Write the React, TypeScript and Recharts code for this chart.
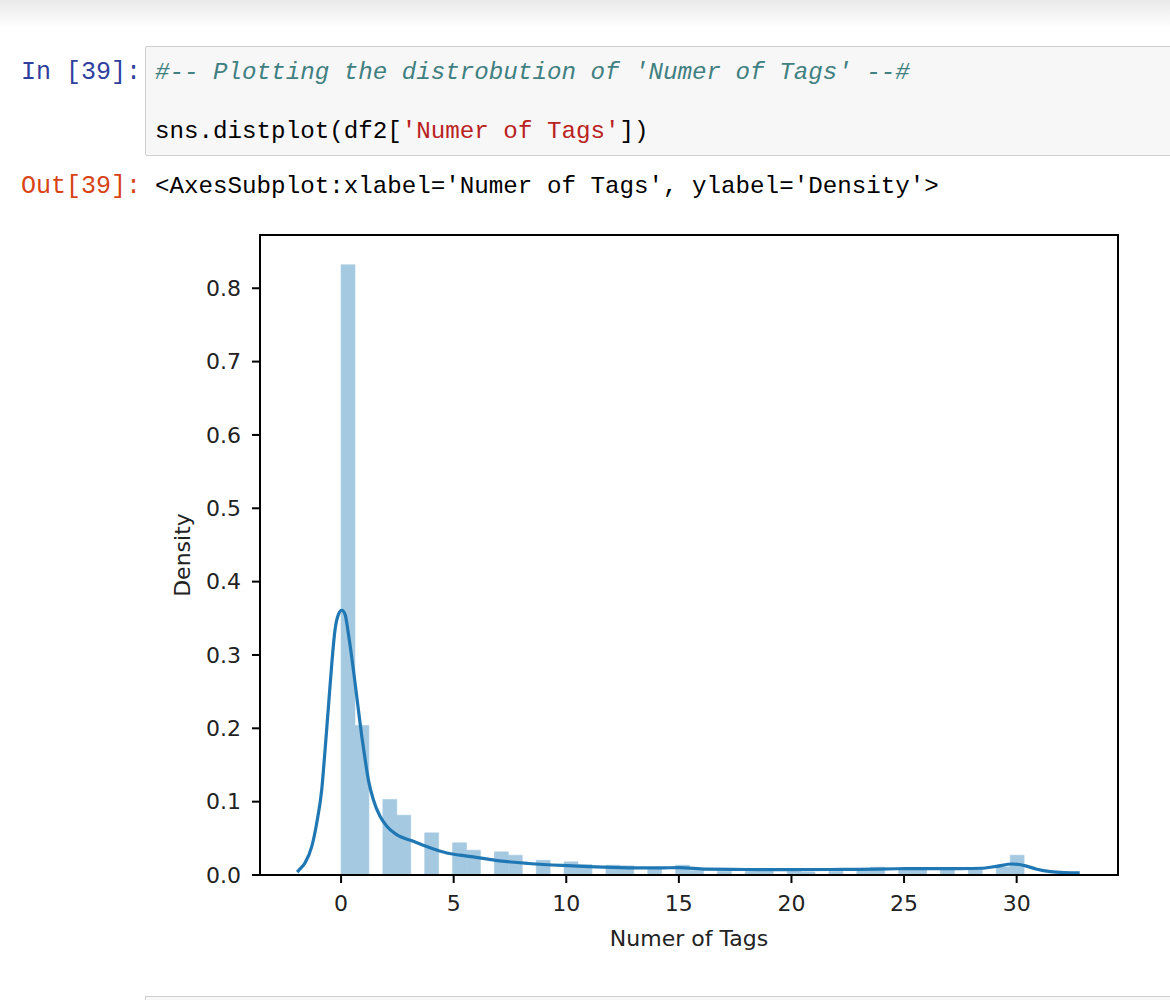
import React from "react"
import { ComposedChart, Bar, Line, XAxis, YAxis, ReferenceArea } from "recharts"

// histogram: 49 bins starting at 0
const binStart = 0
const binWidth = 0.619
const binDensity = [
  0.832, 0.204, 0, 0.103, 0.0815, 0, 0.0575, 0, 0.0439, 0.0338,
  0, 0.0316, 0.027, 0, 0.02, 0, 0.018, 0.0143, 0, 0.0134,
  0.0125, 0, 0.009, 0, 0.0134, 0.006, 0, 0.005, 0, 0.005,
  0.005, 0, 0.005, 0.004, 0, 0.005, 0, 0.009, 0.0106, 0,
  0.008, 0.008, 0, 0.008, 0, 0.009, 0, 0.011, 0.027,
]

// kde curve
const kdeX = [
  -1.95, -1.8, -1.6, -1.3, -1.08, -0.86, -0.71, -0.56, -0.41, -0.27, -0.12, 0.03, 0.18, 0.32,
  0.47, 0.62, 0.77, 0.92, 1.07, 1.21, 1.43, 1.73, 2.03, 2.47, 3.21, 3.95, 4.69, 5.28, 6.0,
  6.85, 8.33, 9.81, 11.0, 12.0, 13.3, 14.3, 15.0, 16.2, 18, 20, 21.7, 23, 24.7, 26.1, 27.5,
  28.4, 29.1, 29.8, 30.4, 30.9, 31.5, 32.1, 32.8,
]
const kdeY = [
  0.004, 0.009, 0.0166, 0.039, 0.071, 0.116, 0.171, 0.23, 0.289, 0.334, 0.355, 0.361, 0.355, 0.33,
  0.298, 0.262, 0.225, 0.189, 0.157, 0.13, 0.103, 0.08, 0.0665, 0.055, 0.046, 0.037, 0.03, 0.027, 0.024,
  0.02, 0.0157, 0.013, 0.0115, 0.0105, 0.0098, 0.0098, 0.01, 0.008, 0.0075, 0.0073, 0.0075, 0.0078, 0.0085, 0.0087, 0.0088,
  0.0092, 0.0118, 0.015, 0.0125, 0.0078, 0.0045, 0.0033, 0.003,
]

const xTicks = [0, 5, 10, 15, 20, 25, 30]
const yTicks = [0, 0.1, 0.2, 0.3, 0.4, 0.5, 0.6, 0.7, 0.8]
const xDomain = [-3.6, 34.5]
const yDomain = [0, 0.8726]

const bins = binDensity.map((d, i) => ({ x: binStart + (i + 0.5) * binWidth, density: d }))
const kde = kdeX.map((x, i) => ({ x, y: kdeY[i] }))

const mono = "'Liberation Mono', 'DejaVu Sans Mono', monospace"
const tickStyle = { fill: "#222", fontSize: 22, fontFamily: "'DejaVu Sans'" }
const line = { stroke: "#000", strokeWidth: 2 }

function Code({ top, children }: { top: number; children: React.ReactNode }) {
  return (
    <div style={{ position: "absolute", left: 155, top, fontFamily: mono, fontSize: 24.2, lineHeight: "28px", whiteSpace: "pre" }}>
      {children}
    </div>
  )
}

function Prompt({ top, color, text }: { top: number; color: string; text: string }) {
  return (
    <div style={{ position: "absolute", left: 0, width: 141, top, textAlign: "right", color, fontFamily: mono, fontSize: 25, lineHeight: "28px", whiteSpace: "pre" }}>
      {text}
    </div>
  )
}

export default function App() {
  return (
    <div style={{ position: "absolute", left: 0, top: 0, width: 1170, height: 1000, overflow: "hidden", background: "#fff" }}>
      <div style={{ position: "absolute", left: 0, top: 0, width: 1170, height: 28, background: "linear-gradient(#e9e9e9, #ffffff)" }} />
      <div style={{ position: "absolute", left: 145, top: 46, width: 1040, height: 110, background: "#f7f7f7", border: "1px solid #cfcfcf", borderRadius: 2, boxSizing: "border-box" }} />
      <Prompt top={59} color="#303F9F" text="In [39]:" />
      <Code top={59}>
        <span style={{ color: "#408080", fontStyle: "italic" }}>#-- Plotting the distrobution of 'Numer of Tags' --#</span>
      </Code>
      <Code top={118}>
        <span style={{ color: "#000" }}>sns.distplot(df2[</span>
        <span style={{ color: "#BA2121" }}>'Numer of Tags'</span>
        <span style={{ color: "#000" }}>])</span>
      </Code>
      <Prompt top={173} color="#D84315" text="Out[39]:" />
      <Code top={173}>
        <span style={{ color: "#000" }}>{"<AxesSubplot:xlabel='Numer of Tags', ylabel='Density'>"}</span>
      </Code>

      <div style={{ position: "absolute", left: 0, top: 0 }}>
        <ComposedChart
          width={1170}
          height={1000}
          data={bins}
          margin={{ top: 235, right: 52, bottom: 65, left: 160 }}
          barCategoryGap={0}
          barGap={0}
        >
          <XAxis
            xAxisId="bins"
            dataKey="x"
            type="number"
            domain={xDomain}
            allowDataOverflow
            ticks={xTicks}
            interval={0}
            height={60}
            tickSize={8}
            tickMargin={12}
            axisLine={line}
            tickLine={line}
            tick={tickStyle}
            label={{ value: "Numer of Tags", position: "insideTop", offset: 55, fill: "#222", fontSize: 22, fontFamily: "'DejaVu Sans'" }}
          />
          <XAxis xAxisId="kde" dataKey="x" type="number" domain={xDomain} allowDataOverflow hide />
          <YAxis
            type="number"
            domain={yDomain}
            allowDataOverflow
            ticks={yTicks}
            interval={0}
            width={100}
            tickSize={8}
            tickMargin={11}
            tickFormatter={(v: number) => v.toFixed(1)}
            axisLine={line}
            tickLine={line}
            tick={tickStyle}
            label={{ value: "Density", angle: -90, position: "center", dx: -28, fill: "#222", fontSize: 22, fontFamily: "'DejaVu Sans'" }}
          />
          <Bar
            xAxisId="bins"
            dataKey="density"
            fill="#a5c9e1"
            stroke="#a5c9e1"
            strokeWidth={0.6}
            barSize={13.9}
            isAnimationActive={false}
          />
          <Line
            xAxisId="kde"
            data={kde}
            dataKey="y"
            type="monotone"
            stroke="#1f77b4"
            strokeWidth={3.2}
            dot={false}
            activeDot={false}
            isAnimationActive={false}
          />
          <ReferenceArea
            xAxisId="bins"
            x1={xDomain[0]}
            x2={xDomain[1]}
            y1={yDomain[0]}
            y2={yDomain[1]}
            fill="none"
            stroke="#000"
            strokeWidth={2}
            ifOverflow="visible"
          />
        </ComposedChart>
      </div>

      <div style={{ position: "absolute", left: 145, top: 996, width: 1040, height: 10, background: "#f7f7f7", border: "1px solid #cfcfcf", boxSizing: "border-box" }} />
    </div>
  )
}
